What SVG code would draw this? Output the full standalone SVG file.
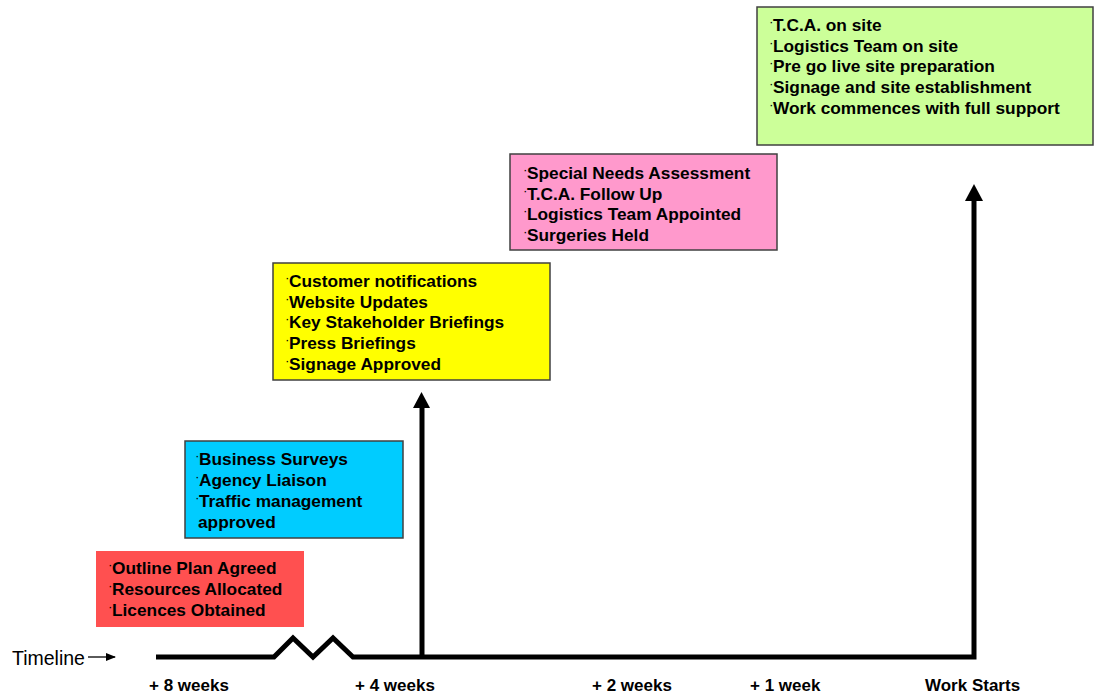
<svg xmlns="http://www.w3.org/2000/svg" width="1094" height="695" viewBox="0 0 1094 695">
<style>
.box{stroke:#404040;stroke-width:1.5}
.t{font-family:"Liberation Sans",Arial,sans-serif;font-weight:bold;font-size:17.3px;fill:#000}
.b{font-size:9px;baseline-shift:5px}
.lbl{font-family:"Liberation Sans",Arial,sans-serif;font-weight:bold;font-size:17px;fill:#000}
.line{fill:none;stroke:#000;stroke-width:5}
</style>
<defs>
<marker id="small" markerWidth="10" markerHeight="8" refX="9" refY="4" orient="auto" markerUnits="userSpaceOnUse">
<path d="M0,0 L10,4 L0,8 Z" fill="#000"/>
</marker>
</defs>
<rect width="1094" height="695" fill="#fff"/>
<g id="connectors">
<polyline class="line" points="156,657 274,657 293,638 313,657 333,638 353,657 974,657 974,200"/>
<path d="M965,201 L974,184 L983,201 Z" fill="#000"/>
<path d="M422,657 L422,406" fill="none" stroke="#000" stroke-width="5"/>
<path d="M413,408 L421.5,392 L430,408 Z" fill="#000"/>
<path d="M88,657 L115,657" fill="none" stroke="#000" stroke-width="1.3" marker-end="url(#small)"/>
</g>
<g id="timeline-label">
<text x="12" y="665" font-family="Liberation Sans,Arial,sans-serif" font-size="19.5" fill="#000">Timeline</text>
</g>
<g id="week-labels">
<text class="lbl" x="149" y="691">+ 8 weeks</text>
<text class="lbl" x="355" y="691">+ 4 weeks</text>
<text class="lbl" x="592" y="691">+ 2 weeks</text>
<text class="lbl" x="750" y="691">+ 1 week</text>
<text class="lbl" x="925" y="691">Work Starts</text>
</g>
<g id="box-8weeks">
<rect x="96" y="551" width="208" height="76" fill="#FF5050"/>
<text class="t" x="109" y="574"><tspan class="b">·</tspan>Outline Plan Agreed</text>
<text class="t" x="109" y="595"><tspan class="b">·</tspan>Resources Allocated</text>
<text class="t" x="109" y="616"><tspan class="b">·</tspan>Licences Obtained</text>
</g>
<g id="box-6weeks">
<rect class="box" x="185" y="441" width="218" height="97" fill="#00CCFF"/>
<text class="t" x="196" y="465"><tspan class="b">·</tspan>Business Surveys</text>
<text class="t" x="196" y="486"><tspan class="b">·</tspan>Agency Liaison</text>
<text class="t" x="196" y="507"><tspan class="b">·</tspan>Traffic management</text>
<text class="t" x="198" y="528">approved</text>
</g>
<g id="box-4weeks">
<rect class="box" x="273" y="263" width="277" height="117" fill="#FFFF00"/>
<text class="t" x="286" y="287"><tspan class="b">·</tspan>Customer notifications</text>
<text class="t" x="286" y="308"><tspan class="b">·</tspan>Website Updates</text>
<text class="t" x="286" y="328"><tspan class="b">·</tspan>Key Stakeholder Briefings</text>
<text class="t" x="286" y="349"><tspan class="b">·</tspan>Press Briefings</text>
<text class="t" x="286" y="370"><tspan class="b">·</tspan>Signage Approved</text>
</g>
<g id="box-2weeks">
<rect class="box" x="510" y="154" width="267" height="96" fill="#FF99CC"/>
<text class="t" x="524" y="179"><tspan class="b">·</tspan>Special Needs Assessment</text>
<text class="t" x="524" y="200"><tspan class="b">·</tspan>T.C.A. Follow Up</text>
<text class="t" x="524" y="220"><tspan class="b">·</tspan>Logistics Team Appointed</text>
<text class="t" x="524" y="241"><tspan class="b">·</tspan>Surgeries Held</text>
</g>
<g id="box-workstarts">
<rect class="box" x="757" y="7" width="336" height="138" fill="#CCFF99"/>
<text class="t" x="770" y="31"><tspan class="b">·</tspan>T.C.A. on site</text>
<text class="t" x="770" y="52"><tspan class="b">·</tspan>Logistics Team on site</text>
<text class="t" x="770" y="72"><tspan class="b">·</tspan>Pre go live site preparation</text>
<text class="t" x="770" y="93"><tspan class="b">·</tspan>Signage and site establishment</text>
<text class="t" x="770" y="114"><tspan class="b">·</tspan>Work commences with full support</text>
</g>
</svg>
